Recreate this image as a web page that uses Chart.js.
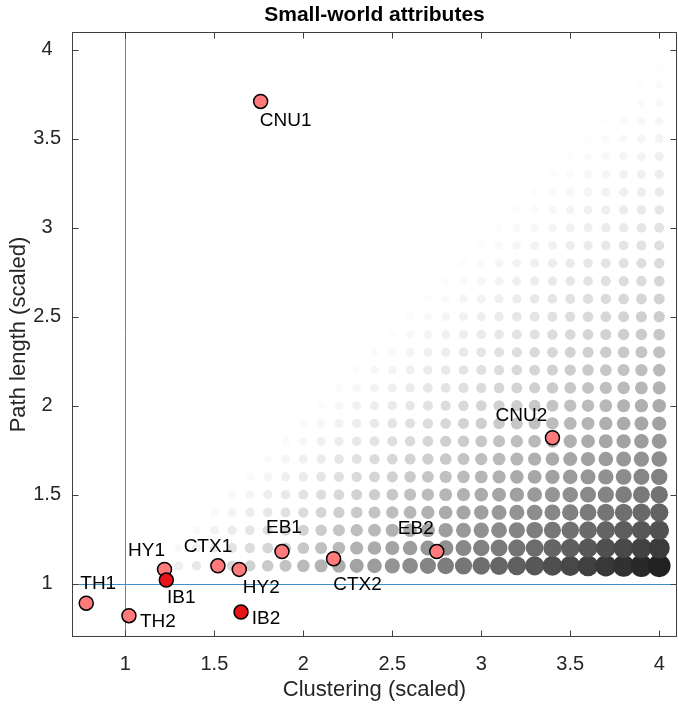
<!DOCTYPE html>
<html>
<head>
<meta charset="utf-8">
<script src="https://cdn.jsdelivr.net/npm/chart.js@4/dist/chart.umd.min.js"></script>
<style>
  html, body { margin: 0; padding: 0; background: #fff; }
  canvas { display: block; }
</style>
</head>
<body>
<canvas id="chart" width="678" height="709"></canvas>
<script>
// grid of reference circles (clustering on x, path length on y)
const gridX = [1.2, 1.3, 1.4, 1.5, 1.6, 1.7, 1.8, 1.9, 2.0, 2.1, 2.2, 2.3, 2.4, 2.5, 2.6,
               2.7, 2.8, 2.9, 3.0, 3.1, 3.2, 3.3, 3.4, 3.5, 3.6, 3.7, 3.8, 3.9, 4.0];
const gridY = [1.1, 1.2, 1.3, 1.4, 1.5, 1.6, 1.7, 1.8, 1.9, 2.0, 2.1, 2.2, 2.3, 2.4, 2.5,
               2.6, 2.7, 2.8, 2.9, 3.0, 3.1, 3.2, 3.3, 3.4, 3.5, 3.6, 3.7, 3.8, 3.9];

// brain regions
const regions    = ['TH1', 'TH2', 'HY1', 'IB1', 'CTX1', 'HY2', 'IB2', 'EB1', 'CTX2', 'EB2', 'CNU2', 'CNU1'];
const clustering = [0.78, 1.02, 1.22, 1.23, 1.52, 1.64, 1.65, 1.88, 2.17, 2.75, 3.40, 1.76];
const pathLength = [0.89, 0.82, 1.08, 1.02, 1.10, 1.08, 0.84, 1.18, 1.14, 1.18, 1.82, 3.71];

const xTicks = [1, 1.5, 2, 2.5, 3, 3.5, 4];
const yTicks = [1, 1.5, 2, 2.5, 3, 3.5, 4];
const refX = 1;
const refY = 1;

// label placement (pixels from marker centre)
const labelOffset = {
  TH1: [12, -19], TH2: [29, 6], HY1: [-18, -19], IB1: [15, 18], CTX1: [-10, -19],
  HY2: [22, 18], IB2: [25, 7], EB1: [2, -24], CTX2: [24, 26], EB2: [-21, -23],
  CNU2: [-31, -22], CNU1: [25, 19],
};

const FONT = "'Liberation Sans', Arial, Helvetica, sans-serif";
const INK = '#262626';

const gridPoints = [];
for (const x of gridX) {
  for (const y of gridY) {
    if (x > y + 1e-9) gridPoints.push({ x, y });
  }
}

const regionPoints = regions.map((name, i) => ({ x: clustering[i], y: pathLength[i], name }));

function ratioOf(ctx) {
  const p = ctx.raw;
  return p ? p.x / p.y : 1;
}

const frame = {
  id: 'frame',
  beforeDatasetsDraw(chart) {
    const { ctx, chartArea: a, scales } = chart;
    ctx.save();
    ctx.strokeStyle = '#3c92c8';
    ctx.lineWidth = 1;
    const px = Math.round(scales.x.getPixelForValue(refX)) + 0.5;
    const py = Math.round(scales.y.getPixelForValue(refY)) + 0.5;
    ctx.beginPath();
    ctx.moveTo(px, a.top); ctx.lineTo(px, a.bottom);
    ctx.moveTo(a.left, py); ctx.lineTo(a.right, py);
    ctx.stroke();
    ctx.restore();
  },
  afterDraw(chart) {
    const { ctx, chartArea: a, scales } = chart;
    ctx.save();

    // labels next to markers
    ctx.fillStyle = '#000';
    ctx.font = `19px ${FONT}`;
    ctx.textAlign = 'center';
    ctx.textBaseline = 'middle';
    regionPoints.forEach(p => {
      const [dx, dy] = labelOffset[p.name];
      ctx.fillText(p.name, scales.x.getPixelForValue(p.x) + dx, scales.y.getPixelForValue(p.y) + dy);
    });

    // box and inward ticks
    ctx.strokeStyle = '#404040';
    ctx.lineWidth = 1;
    const L = Math.round(a.left) + 0.5, R = Math.round(a.right) - 0.5;
    const T = Math.round(a.top) + 0.5, B = Math.round(a.bottom) - 0.5;
    ctx.strokeRect(L, T, R - L, B - T);
    const tl = 6;
    ctx.beginPath();
    xTicks.forEach(v => {
      const x = Math.round(scales.x.getPixelForValue(v)) + 0.5;
      ctx.moveTo(x, B); ctx.lineTo(x, B - tl);
      ctx.moveTo(x, T); ctx.lineTo(x, T + tl);
    });
    yTicks.forEach(v => {
      const y = Math.round(scales.y.getPixelForValue(v)) + 0.5;
      ctx.moveTo(L, y); ctx.lineTo(L + tl, y);
      ctx.moveTo(R, y); ctx.lineTo(R - tl, y);
    });
    ctx.stroke();

    // title and axis titles
    const cx = (a.left + a.right) / 2;
    const cy = (a.top + a.bottom) / 2;
    ctx.fillStyle = '#000';
    ctx.font = `bold 21px ${FONT}`;
    ctx.fillText('Small-world attributes', cx, 15);
    ctx.fillStyle = INK;
    ctx.font = `22px ${FONT}`;
    ctx.fillText('Clustering (scaled)', cx, 690);
    ctx.translate(19, cy);
    ctx.rotate(-Math.PI / 2);
    ctx.fillText('Path length (scaled)', 0, 0);
    ctx.restore();
  },
};

new Chart(document.getElementById('chart'), {
  type: 'scatter',
  data: {
    datasets: [
      {
        label: 'regions',
        data: regionPoints,
        order: 0,
        pointRadius: 7,
        pointHoverRadius: 7,
        borderWidth: 1.5,
        borderColor: '#000',
        backgroundColor: ctx => (ctx.raw && ctx.raw.name.startsWith('IB') ? '#e8141a' : '#ff7b7b'),
      },
      {
        label: 'grid',
        data: gridPoints,
        order: 1,
        borderWidth: 0,
        pointRadius: ctx => 2.8 * ratioOf(ctx) + 1.2,
        pointHoverRadius: ctx => 2.8 * ratioOf(ctx) + 1.2,
        backgroundColor: ctx => {
          const g = Math.max(0, Math.min(255, Math.round(255 - 84 * (ratioOf(ctx) - 1))));
          return `rgb(${g},${g},${g})`;
        },
      },
    ],
  },
  options: {
    responsive: false,
    animation: false,
    events: [],
    layout: { autoPadding: false, padding: { left: 0, top: 32, right: 1, bottom: 0 } },
    plugins: { legend: { display: false }, tooltip: { enabled: false }, title: { display: false } },
    scales: {
      x: {
        type: 'linear',
        min: 0.7,
        max: 4.1,
        grid: { display: false, drawTicks: false },
        border: { display: false },
        afterFit: s => { s.height = 72; s.paddingLeft = 0; s.paddingRight = 0; },
        afterBuildTicks: s => { s.ticks = xTicks.map(v => ({ value: v })); },
        ticks: { padding: 15, color: INK, font: { family: FONT, size: 20 }, callback: v => String(v) },
      },
      y: {
        type: 'linear',
        min: 0.7,
        max: 4.1,
        grid: { display: false, drawTicks: false },
        border: { display: false },
        afterFit: s => { s.width = 72; s.paddingTop = 0; s.paddingBottom = 0; },
        afterBuildTicks: s => { s.ticks = yTicks.map(v => ({ value: v })); },
        ticks: { padding: 11, crossAlign: 'center', color: INK, font: { family: FONT, size: 20 }, callback: v => String(v) },
      },
    },
  },
  plugins: [frame],
});
</script>
</body>
</html>
